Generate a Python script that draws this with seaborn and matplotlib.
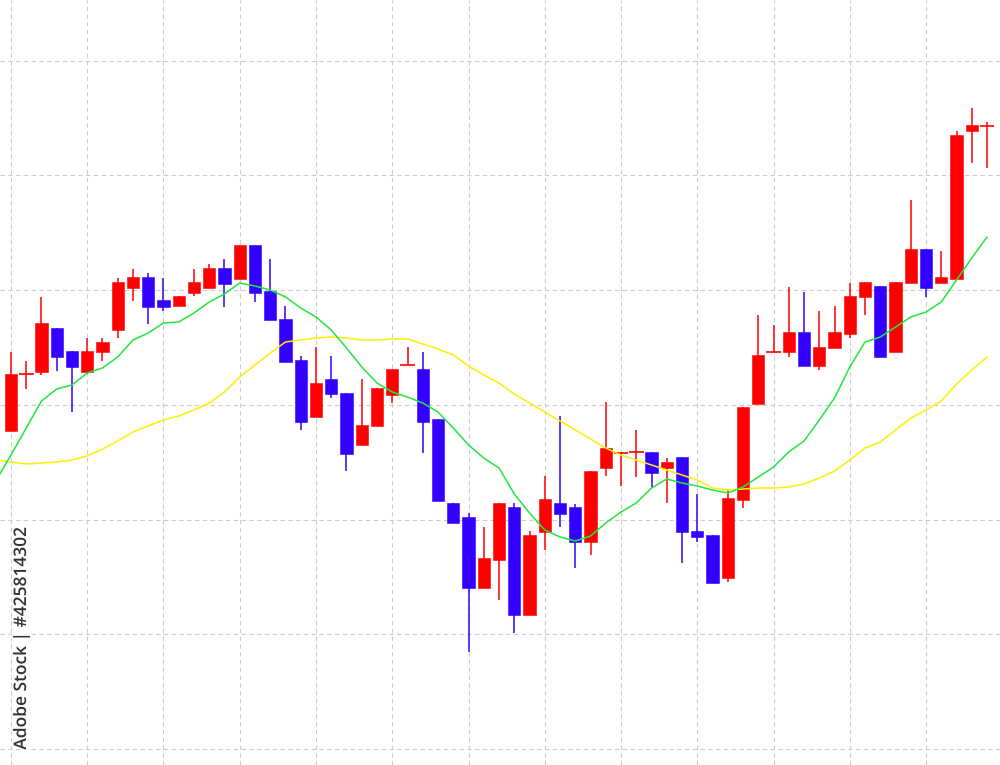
import numpy as np
import pandas as pd
import matplotlib
matplotlib.use("Agg")
import matplotlib.pyplot as plt
import matplotlib.patheffects as pe
from matplotlib.ticker import MultipleLocator
import seaborn as sns

# candle values (one entry per candle, left to right)
opens = [369, 426, 428, 472, 449, 428, 448, 470, 512, 523, 500, 494, 507, 512, 532, 521,
         555, 509, 481, 440, 383, 421, 407, 355, 374, 405, 435, 431, 381, 297, 283, 212,
         240, 293, 185, 268, 297, 293, 258, 332, 347, 348, 348, 332, 343, 269, 265, 222,
         300, 396, 448, 448, 468, 434, 452, 466, 503, 514, 448, 517, 551, 517, 521, 669, 674]
closes = [426, 426, 477, 443, 433, 449, 458, 518, 523, 493, 493, 504, 518, 532, 516, 555,
          507, 480, 438, 378, 417, 406, 346, 375, 412, 431, 435, 378, 299, 277, 212, 242,
          297, 185, 265, 301, 286, 258, 329, 352, 347, 348, 327, 338, 268, 263, 217, 302,
          393, 445, 448, 468, 434, 453, 468, 504, 518, 443, 518, 551, 512, 523, 665, 675, 674]
highs = [448, 439, 503, 472, 449, 462, 462, 522, 531, 527, 522, 504, 531, 536, 541, 555,
         555, 541, 494, 444, 453, 444, 407, 421, 412, 431, 453, 448, 381, 297, 287, 273,
         297, 297, 269, 324, 384, 296, 329, 398, 347, 370, 348, 342, 343, 306, 265, 310,
         393, 485, 475, 513, 508, 489, 494, 517, 518, 514, 518, 600, 551, 549, 669, 692, 678]
lows = [369, 411, 425, 429, 388, 426, 439, 462, 499, 476, 489, 494, 504, 512, 493, 521,
        498, 480, 438, 370, 383, 402, 329, 355, 374, 397, 435, 347, 299, 277, 148, 212,
        200, 167, 185, 250, 273, 232, 245, 324, 314, 323, 312, 297, 237, 258, 217, 218,
        292, 396, 448, 443, 434, 430, 452, 462, 485, 443, 448, 517, 503, 517, 521, 637, 632]

# moving averages, starting one candle before the first visible one
ma_fast = [319, 345, 372, 399, 411, 415, 427, 432, 443, 460, 467, 477, 478, 487, 498, 506, 517,
           514, 510, 503, 492, 483, 470, 452, 433, 417, 408, 403, 397, 388, 372, 355, 342,
           332, 306, 287, 270, 263, 259, 264, 277, 288, 297, 312, 321, 317, 314, 310, 307,
           313, 323, 333, 348, 359, 380, 402, 433, 458, 463, 473, 483, 488, 498, 520, 542, 563]
ma_slow = [340, 338, 336, 337, 338, 340, 344, 351, 359, 368, 374, 380, 384, 390, 397, 408, 423,
           435, 447, 458, 460, 462, 463, 462, 460, 460, 461, 461, 456, 451, 445, 434, 425,
           417, 406, 397, 388, 379, 370, 361, 352, 345, 340, 335, 330, 325, 320, 312, 310,
           311, 312, 312, 313, 316, 322, 329, 340, 352, 358, 370, 382, 390, 399, 416, 430, 443]

sns.set_style("white")

df = pd.DataFrame({"open": opens, "close": closes, "high": highs, "low": lows})
df["idx"] = np.arange(len(df))
df["up"] = df["close"] >= df["open"]

fig = plt.figure(figsize=(10, 7.65), dpi=100)
ax = fig.add_axes([0, 0, 1, 1])

for up, color in [(True, "#ff0000"), (False, "#3300ff")]:
    sub = df[df["up"] == up]
    ax.vlines(sub["idx"], sub["low"], sub["high"], color=color, lw=1.1, zorder=2)
    body = (sub["close"] - sub["open"]).abs()
    bottom = sub[["open", "close"]].min(axis=1)
    flat = body < 1
    ax.bar(sub["idx"][~flat], body[~flat], bottom=bottom[~flat], width=0.8,
           color=color, edgecolor=color, lw=0.4, zorder=3)
    ax.hlines(sub["close"][flat], sub["idx"][flat] - 0.48, sub["idx"][flat] + 0.48,
              color=color, lw=1.2, zorder=3)

ma = pd.DataFrame({"idx": np.arange(-1, len(df)), "fast": ma_fast, "slow": ma_slow})
sns.lineplot(data=ma, x="idx", y="slow", color="#ffee00", lw=1.1, ax=ax, zorder=4)
sns.lineplot(data=ma, x="idx", y="fast", color="#22e63c", lw=1.1, ax=ax, zorder=4)

ax.set_xlim(-0.72, 64.85)
ax.set_ylim(35, 800)
ax.xaxis.set_major_locator(MultipleLocator(5))
ax.yaxis.set_major_locator(MultipleLocator(114.75, offset=51))
ax.grid(True, color="#cccccc", ls=(0, (4, 3)), lw=0.8)
ax.set_axisbelow(True)
ax.tick_params(length=0, labelleft=False, labelbottom=False)
ax.set_xlabel("")
ax.set_ylabel("")
for s in ax.spines.values():
    s.set_visible(False)

fig.text(0.022, 0.02, "Adobe Stock | #425814302", rotation=90, ha="center", va="bottom",
         fontsize=12.5, fontweight="semibold", family=["Open Sans", "DejaVu Sans"],
         color="#333333",
         path_effects=[pe.withStroke(linewidth=2.5, foreground="white")])

fig.savefig("out.png", dpi=100)
